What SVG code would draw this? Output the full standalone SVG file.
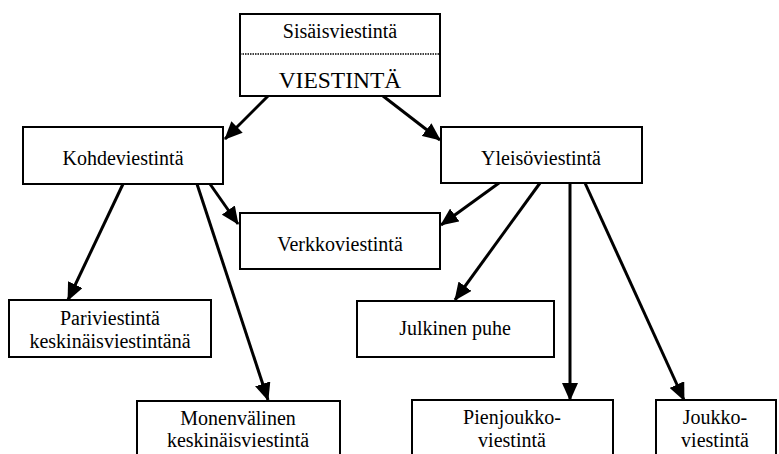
<svg xmlns="http://www.w3.org/2000/svg" width="779" height="454" viewBox="0 0 779 454">
  <style>
    .box { fill: #fff; stroke: #000; stroke-width: 2; }
    text { font-family: 'Liberation Serif', 'Times New Roman', serif; font-size: 20px; fill: #000; text-anchor: middle; }
    .big { font-size: 23.5px; }
    .edge { stroke: #000; stroke-width: 3; fill: none; marker-end: url(#arrow); }
  </style>
  <defs>
    <marker id="arrow" markerUnits="userSpaceOnUse" markerWidth="18" markerHeight="16" refX="17" refY="8" orient="auto">
      <path d="M0,0 L18,8 L0,16 z" fill="#000"/>
    </marker>
  </defs>
  <rect width="779" height="454" fill="#fff"/>

  <g id="connectors">
    <line class="edge" x1="268" y1="96" x2="225" y2="139"/>
    <line class="edge" x1="383" y1="96" x2="440" y2="140"/>
    <line class="edge" x1="210" y1="184" x2="238" y2="224"/>
    <line class="edge" x1="123" y1="184" x2="68" y2="300"/>
    <line class="edge" x1="197" y1="184" x2="268" y2="400"/>
    <line class="edge" x1="499" y1="183" x2="441" y2="225"/>
    <line class="edge" x1="540" y1="183" x2="455" y2="300"/>
    <line class="edge" x1="570" y1="183" x2="570" y2="400"/>
    <line class="edge" x1="585" y1="183" x2="684" y2="400"/>
  </g>

  <g id="viestinta">
    <rect class="box" x="240" y="14" width="200" height="82"/>
    <line x1="240" y1="54" x2="440" y2="54" stroke="#000" stroke-width="1.5" stroke-dasharray="1.5 1"/>
    <text x="340" y="38">Sisäisviestintä</text>
    <text class="big" x="340" y="88">VIESTINTÄ</text>
  </g>

  <g id="kohdeviestinta">
    <rect class="box" x="23" y="127" width="200" height="57"/>
    <text x="123" y="165">Kohdeviestintä</text>
  </g>

  <g id="yleisoviestinta">
    <rect class="box" x="441" y="127" width="201" height="56"/>
    <text x="541" y="165">Yleisöviestintä</text>
  </g>

  <g id="verkkoviestinta">
    <rect class="box" x="240" y="213" width="200" height="56"/>
    <text x="340" y="251">Verkkoviestintä</text>
  </g>

  <g id="pariviestinta">
    <rect class="box" x="9" y="300" width="202" height="57"/>
    <text x="110" y="325">Pariviestintä</text>
    <text x="110" y="348">keskinäisviestintänä</text>
  </g>

  <g id="julkinen-puhe">
    <rect class="box" x="357" y="301" width="197" height="56"/>
    <text x="455" y="335">Julkinen puhe</text>
  </g>

  <g id="monenvalinen">
    <rect class="box" x="137" y="401" width="203" height="60"/>
    <text x="238" y="425">Monenvälinen</text>
    <text x="238" y="447">keskinäisviestintä</text>
  </g>

  <g id="pienjoukkoviestinta">
    <rect class="box" x="412" y="400" width="201" height="60"/>
    <text x="512" y="424">Pienjoukko-</text>
    <text x="512" y="447">viestintä</text>
  </g>

  <g id="joukkoviestinta">
    <rect class="box" x="656" y="400" width="120" height="60"/>
    <text x="715" y="424">Joukko-</text>
    <text x="715" y="447">viestintä</text>
  </g>
</svg>
